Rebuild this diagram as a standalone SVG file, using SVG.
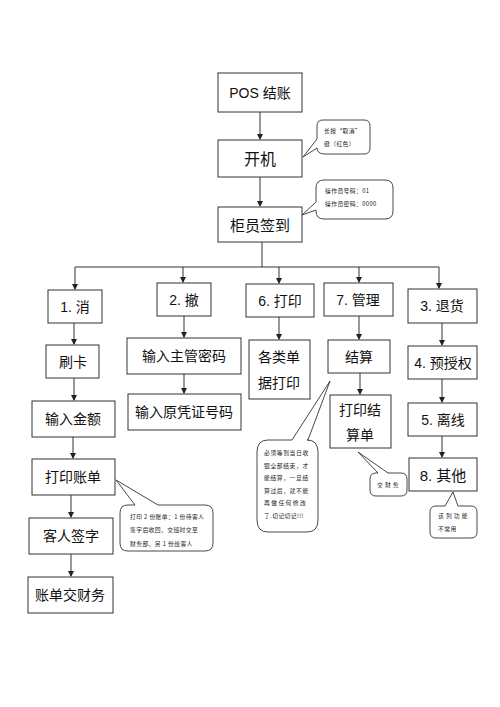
<svg xmlns="http://www.w3.org/2000/svg" width="500" height="707" viewBox="0 0 500 707">
<defs>
<marker id="ah" markerWidth="6" markerHeight="6" refX="5" refY="3" orient="auto" markerUnits="userSpaceOnUse">
<path d="M0,0 L6,3 L0,6 Z" fill="#222"/>
</marker>
<style>
.box{fill:#fff;stroke:#333;stroke-width:1}
.t{font-family:"Liberation Sans","Noto Sans CJK SC",sans-serif;font-size:14px;fill:#111;text-anchor:middle;dominant-baseline:central}
.s{font-family:"Noto Sans CJK SC",sans-serif;font-size:5.8px;fill:#222;letter-spacing:0.4px}
.call{fill:#fff;stroke:#333;stroke-width:0.9}
.ln{stroke:#333;stroke-width:1;fill:none}
</style>
</defs>
<rect width="500" height="707" fill="#fff"/>
<g id="connectors">
<line class="ln" x1="260" y1="112" x2="260" y2="139" marker-end="url(#ah)"/>
<line class="ln" x1="260" y1="177" x2="260" y2="206" marker-end="url(#ah)"/>
<polyline class="ln" points="262,242 262,267"/>
<line class="ln" x1="75" y1="267" x2="439" y2="267"/>
<line class="ln" x1="75" y1="267" x2="75" y2="289" marker-end="url(#ah)"/>
<line class="ln" x1="183" y1="267" x2="183" y2="282" marker-end="url(#ah)"/>
<line class="ln" x1="279" y1="267" x2="279" y2="283" marker-end="url(#ah)"/>
<line class="ln" x1="359" y1="267" x2="359" y2="282" marker-end="url(#ah)"/>
<line class="ln" x1="439" y1="267" x2="439" y2="288" marker-end="url(#ah)"/>
<line class="ln" x1="74" y1="323" x2="74" y2="344" marker-end="url(#ah)"/>
<line class="ln" x1="74" y1="378" x2="74" y2="400" marker-end="url(#ah)"/>
<line class="ln" x1="73" y1="437" x2="73" y2="458" marker-end="url(#ah)"/>
<line class="ln" x1="71" y1="495" x2="71" y2="517" marker-end="url(#ah)"/>
<line class="ln" x1="71" y1="554" x2="71" y2="576" marker-end="url(#ah)"/>
<line class="ln" x1="184" y1="316" x2="184" y2="337" marker-end="url(#ah)"/>
<line class="ln" x1="184" y1="374" x2="184" y2="393" marker-end="url(#ah)"/>
<line class="ln" x1="279" y1="317" x2="279" y2="339" marker-end="url(#ah)"/>
<line class="ln" x1="359" y1="316" x2="359" y2="339" marker-end="url(#ah)"/>
<line class="ln" x1="360" y1="373" x2="360" y2="394" marker-end="url(#ah)"/>
<line class="ln" x1="442" y1="323" x2="442" y2="345" marker-end="url(#ah)"/>
<line class="ln" x1="442" y1="379" x2="442" y2="402" marker-end="url(#ah)"/>
<line class="ln" x1="442" y1="436" x2="442" y2="457" marker-end="url(#ah)"/>
</g>
<g id="n-pos"><rect class="box" x="218" y="73" width="84" height="39"/><text class="t" x="260" y="93">POS 结账</text></g>
<g id="n-kaiji"><rect class="box" x="218" y="140" width="84" height="37"/><text class="t" x="260" y="159" style="font-size:16px">开机</text></g>
<g id="n-qiandao"><rect class="box" x="218" y="207" width="84" height="35"/><text class="t" x="260" y="225" style="font-size:15px">柜员签到</text></g>
<g id="n-xiao"><rect class="box" x="48" y="290" width="54" height="33"/><text class="t" x="75" y="307">1. 消</text></g>
<g id="n-che"><rect class="box" x="157" y="283" width="54" height="33"/><text class="t" x="184" y="300">2. 撤</text></g>
<g id="n-dayin"><rect class="box" x="246" y="284" width="68" height="33"/><text class="t" x="280" y="301">6. 打印</text></g>
<g id="n-guanli"><rect class="box" x="324" y="283" width="69" height="33"/><text class="t" x="358" y="300">7. 管理</text></g>
<g id="n-tuihuo"><rect class="box" x="408" y="289" width="69" height="34"/><text class="t" x="442" y="306">3. 退货</text></g>
<g id="n-shuaka"><rect class="box" x="46" y="345" width="53" height="33"/><text class="t" x="73" y="362">刷卡</text></g>
<g id="n-jine"><rect class="box" x="32" y="401" width="83" height="36"/><text class="t" x="73" y="419">输入金额</text></g>
<g id="n-zhangdan"><rect class="box" x="32" y="459" width="83" height="36"/><text class="t" x="73" y="477">打印账单</text></g>
<g id="n-qianzi"><rect class="box" x="29" y="518" width="84" height="36"/><text class="t" x="71" y="536">客人签字</text></g>
<g id="n-caiwu"><rect class="box" x="28" y="577" width="85" height="36"/><text class="t" x="70" y="595">账单交财务</text></g>
<g id="n-mima"><rect class="box" x="127" y="338" width="114" height="36"/><text class="t" x="184" y="356">输入主管密码</text></g>
<g id="n-haoma"><rect class="box" x="128" y="394" width="113" height="36"/><text class="t" x="184" y="412">输入原凭证号码</text></g>
<g id="n-gelei"><rect class="box" x="249" y="340" width="61" height="59"/><text class="t" x="279" y="357">各类单</text><text class="t" x="279" y="383">据打印</text></g>
<g id="n-jiesuan"><rect class="box" x="328" y="340" width="62" height="33"/><text class="t" x="359" y="357">结算</text></g>
<g id="n-jiesuandan"><rect class="box" x="330" y="395" width="61" height="53"/><text class="t" x="360" y="410">打印结</text><text class="t" x="360" y="435">算单</text></g>
<g id="n-yushouquan"><rect class="box" x="408" y="346" width="69" height="33"/><text class="t" x="443" y="363">4. 预授权</text></g>
<g id="n-lixian"><rect class="box" x="408" y="403" width="69" height="33"/><text class="t" x="443" y="420">5. 离线</text></g>
<g id="n-qita"><rect class="box" x="409" y="458" width="68" height="33"/><text class="t" x="443" y="475" style="font-size:15px">8. 其他</text></g>
<g id="c-quxiao">
<path class="call" d="M323,120 H364 Q370,120 370,126 V148 Q370,154 364,154 H325 Q317,154 317,148 L303,157 L317,139 V126 Q317,120 323,120 Z"/>
<text class="s" x="324" y="133">长按“取消”</text>
<text class="s" x="324" y="146">键（红色）</text>
</g>
<g id="c-caozuoyuan">
<path class="call" d="M324,180 H385 Q393,180 393,188 V211 Q393,219 385,219 H324 Q316,219 316,211 V210 L302,215 L316,202 V188 Q316,180 324,180 Z"/>
<text class="s" x="325" y="193">操作员号码：01</text>
<text class="s" x="325" y="206">操作员密码：0000</text>
</g>
<g id="c-zhangdan">
<path class="call" d="M128,505 H135 L116,480 L158,505 H205 Q213,505 213,513 V543 Q213,551 205,551 H128 Q120,551 120,543 V513 Q120,505 128,505 Z"/>
<text class="s" x="130" y="519">打印 2 份账单：1 份待客人</text>
<text class="s" x="130" y="532">签字后收回，交班时交至</text>
<text class="s" x="130" y="546">财务部，另 1 份给客人</text>
</g>
<g id="c-jiesuan">
<path class="call" d="M268,440 H292 L330,381 L308,440 H307 Q318,440 318,452 V520 Q318,532 307,532 H268 Q257,532 257,520 V452 Q257,440 268,440 Z"/>
<text class="s" x="264" y="455" style="letter-spacing:0.6px">必须等到当日收</text>
<text class="s" x="264" y="468" style="letter-spacing:0.6px">银全部结束，才</text>
<text class="s" x="264" y="480" style="letter-spacing:0.6px">能结算，一旦结</text>
<text class="s" x="264" y="493" style="letter-spacing:0.6px">算过后，就不能</text>
<text class="s" x="264" y="505" style="letter-spacing:1.4px">再做任何修改</text>
<text class="s" x="264" y="518">了.切记切记!!!</text>
</g>
<g id="c-jiaocaiwu">
<path class="call" d="M376,473 H378 L358,452 L388,473 H401 Q407,473 407,479 V490 Q407,496 401,496 H376 Q370,496 370,490 V479 Q370,473 376,473 Z"/>
<text class="s" x="377" y="487">交 财 务</text>
</g>
<g id="c-qita">
<path class="call" d="M436,506 H445 L453,492 L458,506 H471 Q477,506 477,512 V532 Q477,538 471,538 H436 Q430,538 430,532 V512 Q430,506 436,506 Z"/>
<text class="s" x="438" y="518">该 列 功 能</text>
<text class="s" x="438" y="531">不常用</text>
</g>
</svg>
